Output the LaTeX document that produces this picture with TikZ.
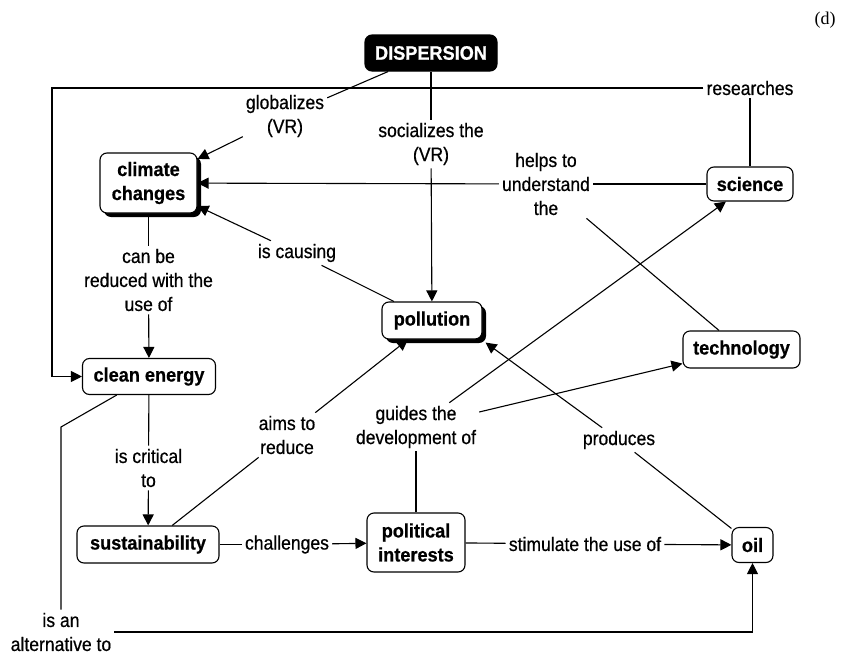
\documentclass[tikz,border=0pt]{standalone}
\usepackage{fontspec}
\setmainfont{Liberation Sans}[FakeStretch=0.9,FakeBold=0.6]
\newfontfamily\cmapbold{Liberation Sans}[FakeStretch=0.93,FakeBold=0.6]
\newfontfamily\cmapserif{Liberation Serif}
\usetikzlibrary{arrows.meta,shadows,calc}
\newcommand\cmapnodefont{\cmapbold\bfseries\fontsize{19.5}{24}\selectfont}
\newcommand\cmaplabelfont{\fontsize{19.5}{24}\selectfont}
\tikzset{
  concept/.style={draw, rounded corners=7pt, line width=1.1pt, fill=white, align=center, font=\cmapnodefont, inner sep=2pt},
  shadowed/.style={drop shadow={shadow xshift=4pt, shadow yshift=-4pt, fill=black, opacity=1}},
  linkphrase/.style={align=center, font=\cmaplabelfont, inner sep=3pt},
  conn/.style={line width=1.1pt},
  arr/.style={conn, -{Triangle[length=11pt,width=11pt]}},
}
\begin{document}
\begin{tikzpicture}[x=1pt,y=-1pt]
\path[use as bounding box] (0,0) rectangle (846,656);
% concepts
\node[concept, fill=black, text=white, minimum width=132pt, minimum height=36pt] (disp) at (431,53) {DISPERSION};
\node[concept, shadowed, minimum width=97pt, minimum height=60pt] (cc) at (148.5,183) {climate\\changes};
\node[concept, shadowed, minimum width=100pt, minimum height=37pt] (poll) at (432,320.5) {pollution};
\node[concept, minimum width=86pt, minimum height=34pt] (sci) at (750,184) {science};
\node[concept, minimum width=117pt, minimum height=37pt] (tech) at (741.5,349.5) {technology};
\node[concept, minimum width=133pt, minimum height=36pt] (ce) at (149,376.5) {clean energy};
\node[concept, minimum width=142pt, minimum height=37pt] (sus) at (148,544.5) {sustainability};
\node[concept, minimum width=98pt, minimum height=59pt] (pol) at (416,542.5) {political\\interests};
\node[concept, minimum width=41pt, minimum height=35pt] (oil) at (752.5,545) {oil};
% linking phrases
\node[linkphrase] (glob) at (285,116) {globalizes\\(VR)};
\node[linkphrase] (soc) at (431,144) {socializes the\\(VR)};
\node[linkphrase] (helps) at (546,184) {helps to\\understand\\the};
\node[linkphrase] (causing) at (297,253) {is causing};
\node[linkphrase] (reduce) at (148.5,280) {can be\\reduced with the\\use of};
\node[linkphrase] (critical) at (148.5,468) {is critical\\to};
\node[linkphrase] (aims) at (287,435) {aims to\\reduce};
\node[linkphrase] (guides) at (416,427) {guides the\\development of};
\node[linkphrase] (produces) at (619,440) {produces};
\node[linkphrase] (challenges) at (287,544.5) {challenges};
\node[linkphrase] (stim) at (585,544) {stimulate the use of};
\node[linkphrase] (alt) at (61,632) {is an\\alternative to};
\node[linkphrase] (res) at (750,88) {researches};
\node[font=\cmapserif\fontsize{18}{20}\selectfont, inner sep=0pt] (dlabel) at (825,20) {(d)};
% connectors
\draw[conn] (disp) -- (glob);
\draw[arr] (glob) -- (cc);
\draw[conn] (disp) -- (soc);
\draw[arr] (soc) -- (poll);
\draw[conn] (sci) -- (helps);
\draw[arr] (helps) -- (cc);
\draw[conn] (tech) -- (helps);
\draw[conn] (poll) -- (causing);
\draw[arr] (causing) -- (cc);
\draw[conn] (cc) -- (reduce);
\draw[arr] (reduce) -- (ce);
\draw[conn] (ce) -- (critical);
\draw[arr] (critical) -- (sus);
\draw[conn] (sus) -- (aims);
\draw[arr] (aims) -- (poll);
\draw[conn] (sus) -- (challenges);
\draw[arr] (challenges) -- (pol);
\draw[conn] (pol) -- (guides);
\draw[arr] (guides) -- (sci);
\draw[arr] (guides) -- (tech);
\draw[conn] (pol) -- (stim);
\draw[arr] (stim) -- (oil);
\draw[conn] (oil) -- (produces);
\draw[arr] (produces) -- ($(poll.south east)+(3,3)$);
\draw[conn] (sci) -- (res);
\coordinate (rbend) at (52,88);
\draw[arr] (res) -- (rbend) |- (ce);
\coordinate (abend) at (61,427);
\draw[conn] (ce) -- (abend) -- (alt);
\draw[arr] (alt) -| (oil);
\end{tikzpicture}
\end{document}
